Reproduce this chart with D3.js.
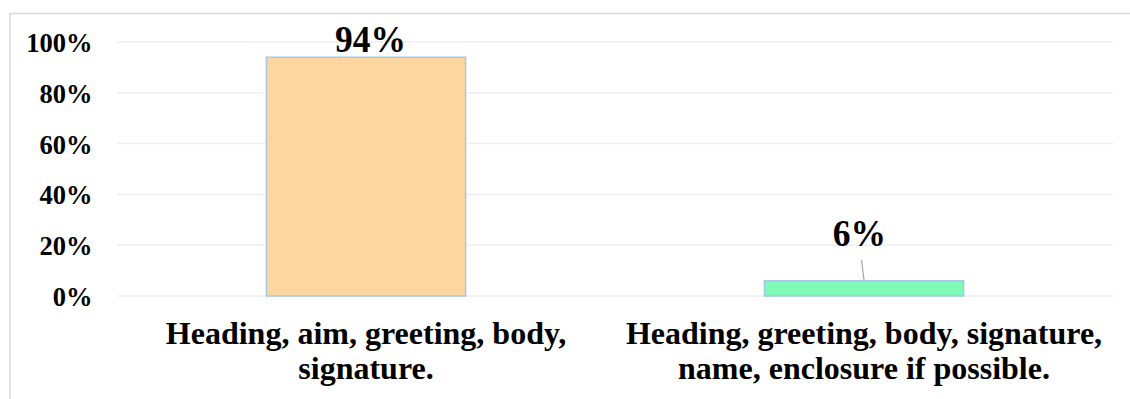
<!DOCTYPE html>
<html>
<head>
<meta charset="utf-8">
<script src="https://cdn.jsdelivr.net/npm/d3@7"></script>
<style>
  html, body { margin: 0; padding: 0; background: #fff; }
  svg { display: block; }
  text { font-family: "Liberation Serif", "Times New Roman", serif; font-weight: bold; fill: #000; }
</style>
</head>
<body>
<svg id="chart" width="1130" height="399"></svg>
<script>
// Letter structure responses (share of respondents)
const categories = [
  ["Heading, aim, greeting, body,", "signature."],
  ["Heading, greeting, body, signature,", "name, enclosure if possible."]
];
const values = [0.94, 0.06];
const barColors = ["#FDD59F", "#80FBB5"];
const tickValues = [0, 0.2, 0.4, 0.6, 0.8, 1.0];

const svg = d3.select("#chart");
const W = 1130, H = 399;
const plot = { left: 117, right: 1113, top: 42, bottom: 296 };
const stretch = 1.06; // slightly tall numeral glyphs

// outer frame
svg.append("rect")
  .attr("x", 10).attr("y", 13.5)
  .attr("width", W + 10).attr("height", H + 10)
  .attr("fill", "none").attr("stroke", "#D9D9D9").attr("stroke-width", 1.5);

const x = d3.scaleBand()
  .domain(d3.range(categories.length))
  .range([plot.left, plot.right])
  .paddingInner(0.6).paddingOuter(0.3);

const y = d3.scaleLinear().domain([0, 1]).range([plot.bottom, plot.top]);

// gridlines
svg.append("g")
  .selectAll("line").data(tickValues).join("line")
  .attr("x1", plot.left).attr("x2", plot.right)
  .attr("y1", d => y(d)).attr("y2", d => y(d))
  .attr("stroke", "#EEEEEE").attr("stroke-width", 1.5);

// y axis labels
const yAxis = d3.axisLeft(y).tickValues(tickValues).tickFormat(d3.format(".0%")).tickSize(0).tickPadding(0);
const yg = svg.append("g").attr("transform", "translate(92.5,0)").call(yAxis);
yg.select(".domain").remove();
yg.selectAll("text")
  .attr("font-size", 26.5).attr("font-family", "Liberation Serif").attr("font-weight", "bold")
  .attr("fill", "#000").attr("dy", "0.34em")
  .attr("transform", `scale(1,${stretch})`);

// bars
svg.append("g")
  .selectAll("rect").data(values).join("rect")
  .attr("x", (d, i) => x(i))
  .attr("y", d => y(d))
  .attr("width", x.bandwidth())
  .attr("height", d => y(0) - y(d))
  .attr("fill", (d, i) => barColors[i])
  .attr("stroke", "#A4C8EA").attr("stroke-width", 1.5);

// value labels; the small bar gets its label raised with a leader line
const fmt = d3.format(".0%");
const labelPos = values.map((d, i) => {
  const cx = x(i) + x.bandwidth() / 2;
  return d < 0.2
    ? { x: cx - 4.5, y: y(d) - 34.5, leader: true, cx }
    : { x: cx + 4.5, y: y(d) - 5, leader: false, cx };
});

svg.append("g")
  .selectAll("line").data(values.filter((d, i) => labelPos[i].leader))
  .join("line")
  .each(function (d) {
    const i = values.indexOf(d);
    const p = labelPos[i];
    d3.select(this)
      .attr("x1", p.x + 2).attr("y1", p.y + 13.5)
      .attr("x2", p.cx).attr("y2", y(d) - 0.5);
  })
  .attr("stroke", "#A6A6A6").attr("stroke-width", 1.2);

svg.append("g")
  .selectAll("text").data(values).join("text")
  .attr("transform", (d, i) => `translate(${labelPos[i].x},${labelPos[i].y}) scale(1,${stretch})`)
  .attr("text-anchor", "middle")
  .attr("font-size", 35.5)
  .text(d => fmt(d));

// category labels
const cat = svg.append("g")
  .selectAll("text").data(categories).join("text")
  .attr("x", (d, i) => x(i) + x.bandwidth() / 2)
  .attr("y", 343.5)
  .attr("text-anchor", "middle")
  .attr("font-size", 32);
cat.selectAll("tspan").data(d => d).join("tspan")
  .attr("x", function () { return d3.select(this.parentNode).attr("x"); })
  .attr("dy", (d, j) => j === 0 ? 0 : 35.5)
  .text(d => d);
</script>
</body>
</html>
